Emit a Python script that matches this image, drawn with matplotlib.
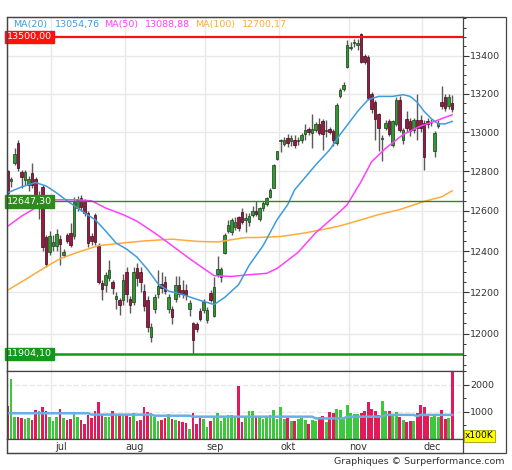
import matplotlib
matplotlib.use("Agg")
import matplotlib.pyplot as plt
import matplotlib.ticker as mticker
from matplotlib.patches import Rectangle
import numpy as np

# --- daily candles, index 0 = mid june ---
opens = [12800, 12750, 12840, 12946, 12796, 12755, 12730, 12790, 12760, 12640,
         12720, 12470, 12397, 12425, 12425, 12460, 12382, 12478, 12490, 12475,
         12615, 12665, 12650, 12590, 12475, 12580, 12427, 12245, 12236, 12268,
         12248, 12165, 12160, 12160, 12300, 12165, 12151, 12315, 12300, 12206,
         12160, 11985, 12120, 12190, 12240, 12250, 12120, 12120, 12167, 12236,
         12210, 12210, 12120, 12050, 12045, 12110, 12115, 12065, 12198, 12085,
         12290, 12275, 12390, 12500, 12495, 12520, 12568, 12592, 12556, 12543,
         12578, 12600, 12560, 12612, 12632, 12670, 12715, 12862, 12955, 12940,
         12970, 12955, 12960, 12955, 12958, 12990, 13018, 12995, 13013, 13042,
         13055, 13005, 13015, 13005, 12945, 13185, 13225, 13341, 13440, 13468,
         13457, 13515, 13400, 13395, 13200, 13155, 13094, 12965, 13021, 13055,
         12935, 13039, 13168, 12960, 13065, 13055, 13010, 13060, 13060, 13047,
         13055, 13045, 12900, 13030, 13155, 13183, 13133, 13150]
highs = [12805, 12770, 12918, 12960, 12805, 12805, 12775, 12840, 12770, 12700,
         12730, 12480, 12500, 12480, 12510, 12480, 12410, 12490, 12540, 12670,
         12675, 12680, 12660, 12600, 12490, 12590, 12440, 12260, 12300, 12355,
         12260, 12200, 12170, 12290, 12320, 12180, 12320, 12340, 12320, 12240,
         12180, 12050, 12190, 12307, 12300, 12280, 12190, 12135, 12280, 12280,
         12260, 12240, 12160, 12055, 12055, 12125, 12165, 12130, 12210, 12275,
         12375, 12320, 12490, 12555, 12565, 12570, 12575, 12614, 12590, 12590,
         12625, 12647, 12620, 12650, 12670, 12712, 12835, 12905, 12965, 12975,
         12990, 12985, 12985, 12975, 12995, 13040, 13025, 13095, 13050, 13075,
         13065, 13060, 13025, 13015, 13150, 13230, 13260, 13484, 13475, 13490,
         13490, 13522, 13410, 13405, 13210, 13165, 13100, 12985, 13060, 13065,
         13060, 13180, 13185, 13020, 13110, 13070, 13075, 13195, 13090, 13060,
         13070, 13065, 13005, 13060, 13237, 13195, 13195, 13190]
lows = [12680, 12720, 12831, 12800, 12715, 12730, 12700, 12715, 12630, 12560,
        12400, 12320, 12380, 12400, 12400, 12330, 12370, 12440, 12420, 12460,
        12600, 12600, 12575, 12420, 12430, 12430, 12240, 12160, 12200, 12255,
        12190, 12120, 12090, 12140, 12150, 12100, 12140, 12230, 12200, 12110,
        12010, 11963, 12100, 12170, 12195, 12190, 12100, 12046, 12150, 12175,
        12170, 12160, 12085, 11904, 12010, 12060, 12100, 12050, 12150, 12080,
        12275, 12250, 12385, 12490, 12480, 12505, 12500, 12535, 12495, 12525,
        12570, 12575, 12550, 12600, 12625, 12665, 12712, 12855, 12895, 12930,
        12925, 12930, 12920, 12935, 12945, 12960, 12985, 12920, 13000, 12985,
        12910, 12975, 12990, 12930, 12935, 13175, 13215, 13335, 13430, 13448,
        13430, 13360, 13355, 13165, 13100, 12960, 12905, 12850, 13010, 12980,
        12925, 13030, 13000, 12940, 13000, 12980, 12995, 12960, 13000, 12805,
        13020, 13030, 12870, 13020, 13120, 13110, 13120, 13105]
closes = [12690, 12758, 12887, 12814, 12770, 12796, 12760, 12730, 12645, 12680,
          12420, 12335, 12473, 12445, 12483, 12435, 12398, 12452, 12430, 12645,
          12655, 12620, 12590, 12440, 12450, 12445, 12250, 12213, 12283, 12307,
          12221, 12180, 12137, 12260, 12190, 12140, 12300, 12268, 12250, 12135,
          12030, 12030, 12174, 12230, 12221, 12206, 12174, 12082, 12236, 12190,
          12190, 12185, 12145, 11970, 12025, 12070, 12150, 12115, 12160, 12225,
          12310, 12312, 12480, 12530, 12556, 12545, 12515, 12543, 12562, 12575,
          12597, 12585, 12612, 12640, 12665, 12705, 12830, 12900, 12960, 12960,
          12942, 12968, 12935, 12958, 12985, 13010, 13000, 13018, 13042, 12995,
          12990, 13012, 12998, 12960, 13140, 13220, 13246, 13457, 13448, 13472,
          13470, 13368, 13368, 13175, 13120, 13065, 13022, 12970, 13047, 12990,
          13055, 13168, 13013, 13008, 13021, 13005, 13060, 13020, 13020, 12870,
          13040, 13048, 12995, 13047, 13133, 13125, 13183, 13120]
# volume in units of 100K
volumes = [1227, 2205, 800, 800, 780, 740, 760, 715, 1080, 1040,
           1190, 1040, 825, 678, 825, 1105, 775, 700, 740, 985,
           800, 700, 556, 885, 775, 1040, 1350, 900, 800, 800,
           1020, 900, 900, 900, 900, 825, 970, 678, 700, 1190,
           985, 950, 800, 678, 700, 775, 923, 740, 700, 678,
           640, 605, 360, 950, 556, 775, 740, 432, 678, 825,
           950, 655, 775, 900, 900, 860, 1960, 617, 800, 1044,
           1044, 800, 800, 740, 800, 900, 1080, 740, 1190, 740,
           760, 678, 678, 740, 775, 700, 556, 700, 655, 800,
           860, 617, 985, 950, 1105, 1070, 740, 1260, 950, 923,
           923, 950, 1044, 1350, 1105, 1020, 900, 1385, 1020, 1044,
           900, 990, 800, 700, 640, 678, 678, 950, 1260, 1166,
           860, 800, 860, 800, 1070, 740, 775, 2600]

# moving averages read at a few points (candle index, value)
ma20_x = [0, 4, 8, 11, 14, 17, 22, 25, 28, 31, 34, 37, 40, 43, 46, 50, 55, 59, 62, 66,
          69, 73, 77, 80, 82, 88, 92, 95, 100, 103, 106, 110, 113, 115, 117, 119, 121, 123, 125, 127]
ma20_v = [12690, 12720, 12742, 12725, 12690, 12650, 12590, 12556, 12500, 12440,
          12410, 12370, 12310, 12240, 12205, 12188, 12160, 12140, 12174, 12236,
          12330, 12427, 12556, 12630, 12705, 12831, 12908, 12987, 13107, 13168,
          13185, 13185, 13194, 13185, 13155, 13107, 13070, 13042, 13042, 13055]
ma50_x = [0, 4, 9, 13, 20, 24, 28, 33, 37, 42, 47, 52, 56, 59, 64, 68, 74, 77, 83, 88,
          95, 97, 101, 104, 108, 113, 118, 122, 125, 127]
ma50_v = [12522, 12573, 12625, 12655, 12655, 12650, 12614, 12581, 12548, 12490,
          12427, 12363, 12315, 12280, 12276, 12283, 12291, 12315, 12394, 12490,
          12597, 12630, 12747, 12848, 12916, 12987, 13031, 13055, 13076, 13089]
ma100_x = [0, 5, 11, 15, 20, 26, 33, 39, 47, 54, 60, 68, 71, 78, 85, 91, 95, 99, 102, 106,
           112, 119, 124, 127]
ma100_v = [12209, 12260, 12323, 12363, 12394, 12427, 12440, 12450, 12459, 12448,
           12445, 12467, 12467, 12472, 12490, 12510, 12525, 12545, 12560, 12581,
           12606, 12647, 12670, 12700]
vma_x = [0, 23, 24, 41, 42, 52, 53, 87, 88, 96, 97, 107, 108, 116, 117, 118, 127]
vma_v = [950, 950, 900, 900, 860, 860, 825, 825, 760, 760, 825, 825, 890, 890, 845, 890, 890]

month_starts = [13, 34, 57, 78, 98, 119]
month_names = ['jul', 'aug', 'sep', 'okt', 'nov', 'dec']

levels = [13500.00, 12647.30, 11904.10]
level_labels = ['13500,00', '12647,30', '11904,10']
level_colors = ['#ff1010', '#2e8a1e', '#13991a']
level_widths = [1.6, 1.0, 1.8]

legend_names = ['MA(20)', 'MA(50)', 'MA(100)']
legend_values = ['13054,76', '13088,88', '12700,17']
ma_colors = ['#3f9be0', '#ff40ff', '#ffab3a']

price_ticks = [12000, 12200, 12400, 12600, 12800, 13000, 13200, 13400]
vol_ticks = [1000, 2000]

W, H = 512, 470


def px_rect(x0, y0, x1, y1):
    return [x0 / W, 1 - y1 / H, (x1 - x0) / W, (y1 - y0) / H]


fig = plt.figure(figsize=(W / 100, H / 100), dpi=100)
fig.patch.set_facecolor('white')

ax = fig.add_axes(px_rect(7, 17, 463, 371))
axv = fig.add_axes(px_rect(7, 371, 463, 439))
axl = fig.add_axes(px_rect(7, 439, 463, 453))

n = len(closes)
idx = np.arange(n)
o = np.array(opens, float)
c = np.array(closes, float)
up = c >= o
xlim = (-0.15, 130.1)
edge = '#444444'

# --- price panel ---
ax.set_yscale('log')
ax.set_xlim(*xlim)
ax.set_ylim(11824, 13607)
for ms in month_starts:
    ax.axvline(ms - 0.5, color='#e8e8e8', lw=1, zorder=0)
    axv.axvline(ms - 0.5, color='#e8e8e8', lw=1, zorder=0)
for t in price_ticks:
    ax.axhline(t, color='#e8e8e8', lw=1, zorder=0)

ax.vlines(idx, lows, highs, color='#5a5a5a', lw=1, zorder=2)
body_bottom = np.minimum(o, c)
body_height = np.maximum(np.abs(c - o), 3)
ax.bar(idx[up], body_height[up], bottom=body_bottom[up], width=0.68,
       color='#2f9a2f', edgecolor='#1b3a1b', lw=0.5, zorder=3)
ax.bar(idx[~up], body_height[~up], bottom=body_bottom[~up], width=0.68,
       color='#9a1842', edgecolor='#3a0a18', lw=0.5, zorder=3)

ax.plot(ma100_x, ma100_v, color=ma_colors[2], lw=1.1, zorder=4)
ax.plot(ma50_x, ma50_v, color=ma_colors[1], lw=1.1, zorder=4)
ax.plot(ma20_x, ma20_v, color=ma_colors[0], lw=1.1, zorder=4)

trans = ax.get_yaxis_transform()
for lv, lab, col, lw in zip(levels, level_labels, level_colors, level_widths):
    ax.axhline(lv, color=col, lw=lw, zorder=5)
    ax.text(0.0, lv, lab, transform=trans, ha='left', va='center', fontsize=6.8,
            color='white', zorder=6,
            bbox=dict(boxstyle='square,pad=0.18', fc=col, ec=col))

ax.yaxis.tick_right()
ax.yaxis.set_major_locator(mticker.FixedLocator(price_ticks))
ax.yaxis.set_major_formatter(mticker.FuncFormatter(lambda v, p: f"{v:.0f}"))
ax.yaxis.set_minor_locator(mticker.FixedLocator(np.arange(11850, 13601, 50)))
ax.yaxis.set_minor_formatter(mticker.NullFormatter())
ax.tick_params(axis='y', which='major', length=4, width=0.8, color='#333333',
               labelsize=6.8, labelcolor='#333333', pad=1)
ax.tick_params(axis='y', which='minor', length=2.5, width=0.7, color='#333333')
ax.set_xticks([])
for s in ax.spines.values():
    s.set_color(edge)
    s.set_linewidth(0.9)

# legend line at the top
leg_x = [(13, 55), (104, 145), (195, 242)]
for (xn, xv), name, val, col in zip(leg_x, legend_names, legend_values, ma_colors):
    fig.text(xn / W, 1 - 25 / H, name, color=col, fontsize=6.8, va='center', ha='left')
    fig.text(xv / W, 1 - 25 / H, val, color=col, fontsize=6.8, va='center', ha='left')

# --- volume panel ---
axv.set_xlim(*xlim)
axv.set_ylim(0, 2510)
for t in vol_ticks:
    axv.axhline(t, color='#e8e8e8', lw=1, ls='--', zorder=0)
vol = np.array(volumes, float)
axv.bar(idx[up], vol[up], width=0.8, color='#3cc83c', lw=0, zorder=2)
axv.bar(idx[~up], vol[~up], width=0.8, color='#e3195a', lw=0, zorder=2)
axv.plot(vma_x, vma_v, color='#6aaee6', lw=1.8, zorder=3)
axv.yaxis.tick_right()
axv.yaxis.set_major_locator(mticker.FixedLocator(vol_ticks))
axv.yaxis.set_minor_locator(mticker.FixedLocator([500, 1500, 2500]))
axv.tick_params(axis='y', which='major', length=4, width=0.8, color='#333333',
                labelsize=6.8, labelcolor='#333333', pad=1)
axv.tick_params(axis='y', which='minor', length=2.5, width=0.7, color='#333333')
axv.set_xticks([])
for s in axv.spines.values():
    s.set_color(edge)
    s.set_linewidth(0.9)

# --- month label strip ---
axl.set_xlim(*xlim)
axl.set_ylim(0, 1)
axl.set_xticks([])
axl.set_yticks([])
for ms, name in zip(month_starts, month_names):
    axl.text(ms + 2.2, 0.45, name, ha='center', va='center', fontsize=7, color='#333333')
for s in axl.spines.values():
    s.set_color(edge)
    s.set_linewidth(0.9)

# outer frame
fig.patches.append(Rectangle((7 / W, 1 - 453 / H), (506 - 7) / W, (453 - 17) / H,
                             transform=fig.transFigure, fill=False, ec=edge, lw=0.9))

fig.text(465 / W, 1 - 436 / H, 'x100K', fontsize=6.6, color='black', ha='left', va='center',
         bbox=dict(boxstyle='square,pad=0.12', fc='#ffff00', ec='#888800', lw=0.5))
fig.text(505 / W, 1 - 461 / H, 'Graphiques \u00a9 Surperformance.com', fontsize=6.8,
         color='#333333', ha='right', va='center')

fig.savefig('out.png', dpi=100, facecolor='white')
